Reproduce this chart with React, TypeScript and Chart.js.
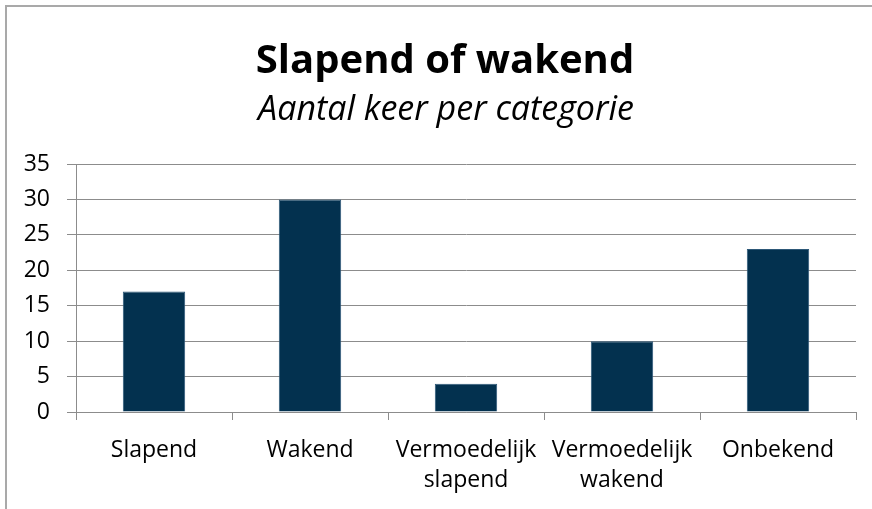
import React, { useEffect, useRef } from 'react';
import { Chart, registerables } from 'chart.js';

Chart.register(...registerables);

// ---- data ----
const categories: string[][] = [
  ['Slapend'],
  ['Wakend'],
  ['Vermoedelijk', 'slapend'],
  ['Vermoedelijk', 'wakend'],
  ['Onbekend'],
];
const values: number[] = [17, 30, 4, 10, 23];
const yMin = 0;
const yMax = 35;
const yStep = 5;
const titleText = 'Slapend of wakend';
const subtitleText = 'Aantal keer per categorie';

const FONT = "'Open Sans', 'DejaVu Sans', sans-serif";

const framePlugin = {
  id: 'frameAndTitles',
  beforeDraw(chart: any) {
    const { ctx, width, height } = chart;
    ctx.save();
    ctx.fillStyle = '#ffffff';
    ctx.fillRect(0, 0, width, height);
    ctx.strokeStyle = '#a9a9a9';
    ctx.lineWidth = 2;
    ctx.strokeRect(6, 6, width + 50, height + 50);
    ctx.restore();
  },
  afterDraw(chart: any) {
    const { ctx } = chart;
    ctx.save();
    ctx.fillStyle = '#000000';
    ctx.textAlign = 'center';
    ctx.textBaseline = 'alphabetic';
    ctx.font = `bold 40px ${FONT}`;
    ctx.fillText(titleText, 445, 73);
    ctx.font = `italic 34px ${FONT}`;
    ctx.fillText(subtitleText, 446, 120);
    ctx.restore();
  },
};

export default function App() {
  const canvasRef = useRef<HTMLCanvasElement | null>(null);

  useEffect(() => {
    document.body.style.margin = '0';
    const canvas = canvasRef.current;
    if (!canvas) return;
    const chart = new Chart(canvas, {
      type: 'bar',
      data: {
        labels: categories as any,
        datasets: [
          {
            data: values,
            backgroundColor: '#03314f',
            borderColor: '#2d5878',
            borderWidth: 1,
            categoryPercentage: 1,
            barPercentage: 0.4,
          },
        ],
      },
      options: {
        animation: false,
        responsive: false,
        maintainAspectRatio: false,
        layout: { padding: { top: 164, right: 16, bottom: 0, left: 0 } },
        plugins: {
          legend: { display: false },
          tooltip: { enabled: false },
          title: { display: false },
        },
        scales: {
          x: {
            offset: true,
            grid: {
              offset: true,
              drawOnChartArea: false,
              drawTicks: true,
              tickLength: 8,
              color: '#8c8c8c',
            },
            border: { display: true, color: '#8c8c8c' },
            ticks: {
              color: '#000000',
              font: { family: FONT, size: 23, lineHeight: 1.32 },
              padding: 15,
              maxRotation: 0,
              autoSkip: false,
            },
            afterFit(scale: any) {
              scale.height = 97;
              scale.paddingLeft = 0;
              scale.paddingRight = 0;
            },
          },
          y: {
            min: yMin,
            max: yMax,
            ticks: {
              stepSize: yStep,
              color: '#000000',
              font: { family: FONT, size: 23 },
              padding: 17,
            },
            grid: {
              color: '#8c8c8c',
              tickLength: 9,
              drawTicks: true,
            },
            border: { display: true, color: '#8c8c8c' },
            afterFit(scale: any) {
              scale.width = 76;
              scale.paddingTop = 0;
              scale.paddingBottom = 0;
            },
          },
        },
      },
      plugins: [framePlugin],
    });
    return () => chart.destroy();
  }, []);

  return (
    <div style={{ width: 872, height: 509 }}>
      <canvas ref={canvasRef} width={872} height={509} style={{ display: 'block' }} />
    </div>
  );
}
